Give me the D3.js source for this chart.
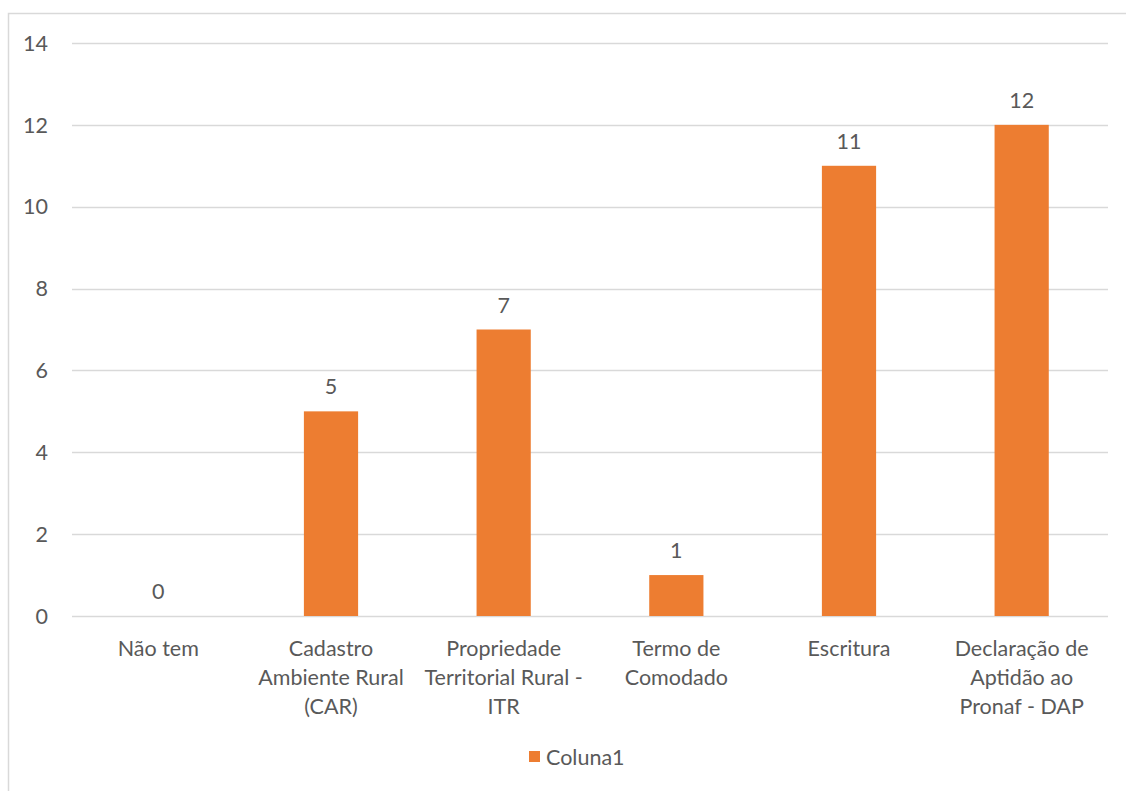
<!DOCTYPE html>
<html><head><meta charset="utf-8">
<script src="https://cdn.jsdelivr.net/npm/d3@7"></script>
<style>body{margin:0;background:#fff}svg{display:block}</style>
</head><body><svg id="c" width="1126" height="791"></svg>
<script>
const categories = [["Não tem"],["Cadastro","Ambiente Rural","(CAR)"],["Propriedade","Territorial Rural -","ITR"],["Termo de","Comodado"],["Escritura"],["Declaração de","Aptidão ao","Pronaf - DAP"]];
const values = [0,5,7,1,11,12];
const yTicks = [0,2,4,6,8,10,12,14];
const seriesName = "Coluna1";

const svg = d3.select("#c");
const font = "Lato, 'Open Sans', sans-serif";
const fs = 21.5;
const txt = "#595959";
svg.append("rect").attr("x",8.5).attr("y",13.5).attr("width",1130).attr("height",800)
  .attr("fill","none").attr("stroke","#d9d9d9").attr("stroke-width",1.5);

const L=72, R=1108, T=43, B=616;
const x = d3.scaleBand().domain(d3.range(values.length)).range([L,R]).paddingInner(0.686).paddingOuter(0.343);
const y = d3.scaleLinear().domain([0,14]).range([B,T]);

const g = svg.append("g");
g.selectAll("line.grid").data(yTicks).join("line")
  .attr("x1",L).attr("x2",R).attr("y1",d=>Math.round(y(d))+0.5).attr("y2",d=>Math.round(y(d))+0.5)
  .attr("stroke","#d9d9d9").attr("stroke-width",1.3);
g.selectAll("text.yt").data(yTicks).join("text")
  .attr("x",48).attr("y",d=>y(d)).attr("dy","0.36em").attr("text-anchor","end")
  .attr("fill",txt).attr("font-family",font).attr("font-size",fs).text(d=>d);

g.selectAll("rect.bar").data(values).join("rect")
  .attr("x",(d,i)=>x(i)).attr("width",x.bandwidth()).attr("y",d=>y(d)).attr("height",d=>B-y(d))
  .attr("fill","#ed7d31");
g.selectAll("text.lab").data(values).join("text")
  .attr("x",(d,i)=>x(i)+x.bandwidth()/2).attr("y",d=>y(d)-17).attr("text-anchor","middle")
  .attr("fill",txt).attr("font-family",font).attr("font-size",fs).text(d=>d);

categories.forEach((lines,i)=>{
  const t = g.append("text").attr("text-anchor","middle").attr("fill",txt)
    .attr("font-family",font).attr("font-size",fs);
  lines.forEach((s,j)=>t.append("tspan").attr("x",x(i)+x.bandwidth()/2).attr("y",656+j*29).text(s));
});

svg.append("rect").attr("x",529).attr("y",751).attr("width",11).attr("height",11).attr("fill","#ed7d31");
svg.append("text").attr("x",546).attr("y",765).attr("fill",txt).attr("font-family",font).attr("font-size",fs).text(seriesName);
</script></body></html>
